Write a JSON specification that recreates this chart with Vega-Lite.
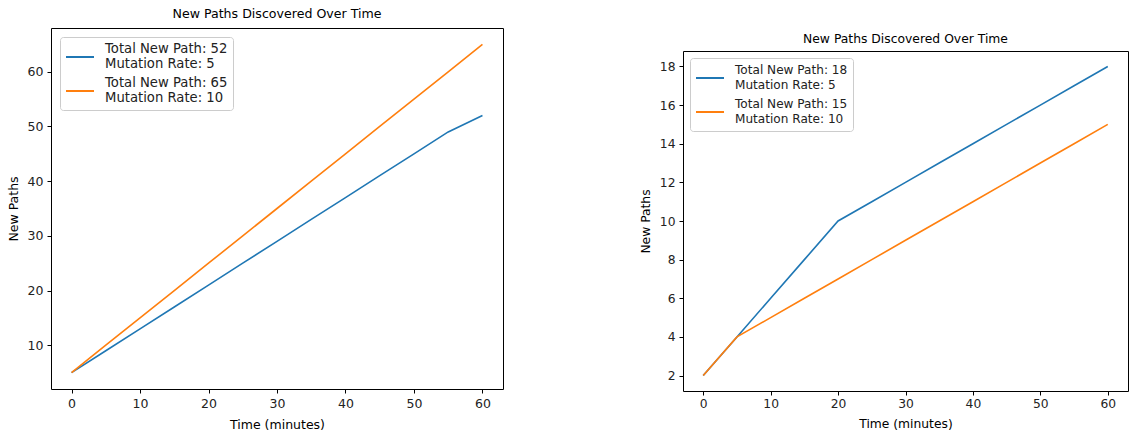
{
  "$schema": "https://vega.github.io/schema/vega-lite/v6.json",
  "background": "white",
  "padding": {"left": 6, "top": 7, "right": 2, "bottom": 2},
  "config": {
    "font": "DejaVu Sans",
    "view": {"stroke": "black", "strokeWidth": 1},
    "style": {"guide-label": {"lineHeight": 15}},
    "axis": {
      "grid": false, "domain": false, "tickColor": "black", "labelColor": "#222", "titleColor": "black",
      "labelFontSize": 12.5, "titleFontSize": 12.5, "titleFontWeight": "normal", "tickSize": 4, "labelPadding": 4, "titlePadding": 5,
      "labelFont": "DejaVu Sans", "titleFont": "DejaVu Sans"
    },
    "title": {"fontSize": 12.6, "fontWeight": "normal", "font": "DejaVu Sans", "color": "black", "offset": 7},
    "legend": {
      "orient": "top-left", "offset": 8, "title": null,
      "fillColor": "white", "strokeColor": "#cccccc", "cornerRadius": 3, "padding": 5,
      "symbolType": "stroke", "symbolSize": 784, "symbolStrokeWidth": 2, "labelFontSize": 13.2,
      "labelFont": "DejaVu Sans", "labelColor": "#222", "labelOffset": 10, "rowPadding": 5, "labelLimit": 300,
      "labelBaseline": "line-bottom"
    }
  },
  "datasets": {
    "left": [
      {"time": 0, "paths": 5, "series": "Total New Path: 52|Mutation Rate: 5"},
      {"time": 5, "paths": 9, "series": "Total New Path: 52|Mutation Rate: 5"},
      {"time": 10, "paths": 13, "series": "Total New Path: 52|Mutation Rate: 5"},
      {"time": 15, "paths": 17, "series": "Total New Path: 52|Mutation Rate: 5"},
      {"time": 20, "paths": 21, "series": "Total New Path: 52|Mutation Rate: 5"},
      {"time": 25, "paths": 25, "series": "Total New Path: 52|Mutation Rate: 5"},
      {"time": 30, "paths": 29, "series": "Total New Path: 52|Mutation Rate: 5"},
      {"time": 35, "paths": 33, "series": "Total New Path: 52|Mutation Rate: 5"},
      {"time": 40, "paths": 37, "series": "Total New Path: 52|Mutation Rate: 5"},
      {"time": 45, "paths": 41, "series": "Total New Path: 52|Mutation Rate: 5"},
      {"time": 50, "paths": 45, "series": "Total New Path: 52|Mutation Rate: 5"},
      {"time": 55, "paths": 49, "series": "Total New Path: 52|Mutation Rate: 5"},
      {"time": 60, "paths": 52, "series": "Total New Path: 52|Mutation Rate: 5"},
      {"time": 0, "paths": 5, "series": "Total New Path: 65|Mutation Rate: 10"},
      {"time": 5, "paths": 10, "series": "Total New Path: 65|Mutation Rate: 10"},
      {"time": 10, "paths": 15, "series": "Total New Path: 65|Mutation Rate: 10"},
      {"time": 15, "paths": 20, "series": "Total New Path: 65|Mutation Rate: 10"},
      {"time": 20, "paths": 25, "series": "Total New Path: 65|Mutation Rate: 10"},
      {"time": 25, "paths": 30, "series": "Total New Path: 65|Mutation Rate: 10"},
      {"time": 30, "paths": 35, "series": "Total New Path: 65|Mutation Rate: 10"},
      {"time": 35, "paths": 40, "series": "Total New Path: 65|Mutation Rate: 10"},
      {"time": 40, "paths": 45, "series": "Total New Path: 65|Mutation Rate: 10"},
      {"time": 45, "paths": 50, "series": "Total New Path: 65|Mutation Rate: 10"},
      {"time": 50, "paths": 55, "series": "Total New Path: 65|Mutation Rate: 10"},
      {"time": 55, "paths": 60, "series": "Total New Path: 65|Mutation Rate: 10"},
      {"time": 60, "paths": 65, "series": "Total New Path: 65|Mutation Rate: 10"}
    ],
    "right": [
      {"time": 0, "paths": 2, "series": "Total New Path: 18|Mutation Rate: 5"},
      {"time": 5, "paths": 4, "series": "Total New Path: 18|Mutation Rate: 5"},
      {"time": 10, "paths": 6, "series": "Total New Path: 18|Mutation Rate: 5"},
      {"time": 15, "paths": 8, "series": "Total New Path: 18|Mutation Rate: 5"},
      {"time": 20, "paths": 10, "series": "Total New Path: 18|Mutation Rate: 5"},
      {"time": 25, "paths": 11, "series": "Total New Path: 18|Mutation Rate: 5"},
      {"time": 30, "paths": 12, "series": "Total New Path: 18|Mutation Rate: 5"},
      {"time": 35, "paths": 13, "series": "Total New Path: 18|Mutation Rate: 5"},
      {"time": 40, "paths": 14, "series": "Total New Path: 18|Mutation Rate: 5"},
      {"time": 45, "paths": 15, "series": "Total New Path: 18|Mutation Rate: 5"},
      {"time": 50, "paths": 16, "series": "Total New Path: 18|Mutation Rate: 5"},
      {"time": 55, "paths": 17, "series": "Total New Path: 18|Mutation Rate: 5"},
      {"time": 60, "paths": 18, "series": "Total New Path: 18|Mutation Rate: 5"},
      {"time": 0, "paths": 2, "series": "Total New Path: 15|Mutation Rate: 10"},
      {"time": 5, "paths": 4, "series": "Total New Path: 15|Mutation Rate: 10"},
      {"time": 10, "paths": 5, "series": "Total New Path: 15|Mutation Rate: 10"},
      {"time": 15, "paths": 6, "series": "Total New Path: 15|Mutation Rate: 10"},
      {"time": 20, "paths": 7, "series": "Total New Path: 15|Mutation Rate: 10"},
      {"time": 25, "paths": 8, "series": "Total New Path: 15|Mutation Rate: 10"},
      {"time": 30, "paths": 9, "series": "Total New Path: 15|Mutation Rate: 10"},
      {"time": 35, "paths": 10, "series": "Total New Path: 15|Mutation Rate: 10"},
      {"time": 40, "paths": 11, "series": "Total New Path: 15|Mutation Rate: 10"},
      {"time": 45, "paths": 12, "series": "Total New Path: 15|Mutation Rate: 10"},
      {"time": 50, "paths": 13, "series": "Total New Path: 15|Mutation Rate: 10"},
      {"time": 55, "paths": 14, "series": "Total New Path: 15|Mutation Rate: 10"},
      {"time": 60, "paths": 15, "series": "Total New Path: 15|Mutation Rate: 10"}
    ]
  },
  "resolve": {"scale": {"color": "independent"}, "legend": {"color": "independent"}},
  "spacing": 134,
  "hconcat": [
    {
      "title": "New Paths Discovered Over Time",
      "width": 452,
      "height": 361,
      "data": {"name": "left"},
      "mark": {"type": "line", "strokeWidth": 1.6},
      "encoding": {
        "x": {"field": "time", "type": "quantitative", "scale": {"domain": [-3, 63], "nice": false, "zero": false},
              "axis": {"values": [0, 10, 20, 30, 40, 50, 60], "title": "Time (minutes)", "titlePadding": 9}},
        "y": {"field": "paths", "type": "quantitative", "scale": {"domain": [2, 68], "nice": false, "zero": false},
              "axis": {"values": [10, 20, 30, 40, 50, 60], "title": "New Paths", "titlePadding": 7}},
        "color": {"field": "series", "type": "nominal",
                  "scale": {"domain": ["Total New Path: 52|Mutation Rate: 5", "Total New Path: 65|Mutation Rate: 10"], "range": ["#1f77b4", "#ff7f0e"]},
                  "legend": {"labelExpr": "split(datum.label, '|')", "offset": 9}}
      }
    },
    {
      "spacing": 0,
      "resolve": {"scale": {"color": "independent"}, "legend": {"color": "independent"}},
      "vconcat": [
        {
          "width": 445,
          "height": 2,
          "view": {"stroke": null},
          "data": {"values": [{}]},
          "mark": {"type": "point", "opacity": 0},
          "encoding": {}
        },
        {
          "title": {"text": "New Paths Discovered Over Time", "fontSize": 12.35, "offset": 5.5},
          "width": 445,
          "height": 340,
          "data": {"name": "right"},
          "mark": {"type": "line", "strokeWidth": 1.6},
          "encoding": {
            "x": {"field": "time", "type": "quantitative", "scale": {"domain": [-3, 63], "nice": false, "zero": false},
                  "axis": {"values": [0, 10, 20, 30, 40, 50, 60], "title": "Time (minutes)", "labelFontSize": 12.3, "titleFontSize": 12.3, "labelPadding": 2, "titlePadding": 8}},
            "y": {"field": "paths", "type": "quantitative", "scale": {"domain": [1.2, 18.8], "nice": false, "zero": false},
                  "axis": {"values": [2, 4, 6, 8, 10, 12, 14, 16, 18], "title": "New Paths", "labelFontSize": 12.3, "titleFontSize": 12.3, "titlePadding": 7}},
            "color": {"field": "series", "type": "nominal",
                      "scale": {"domain": ["Total New Path: 18|Mutation Rate: 5", "Total New Path: 15|Mutation Rate: 10"], "range": ["#1f77b4", "#ff7f0e"]},
                      "legend": {"labelExpr": "split(datum.label, '|')", "labelFontSize": 12.1, "offset": 7}}
          }
        }
      ]
    }
  ]
}
